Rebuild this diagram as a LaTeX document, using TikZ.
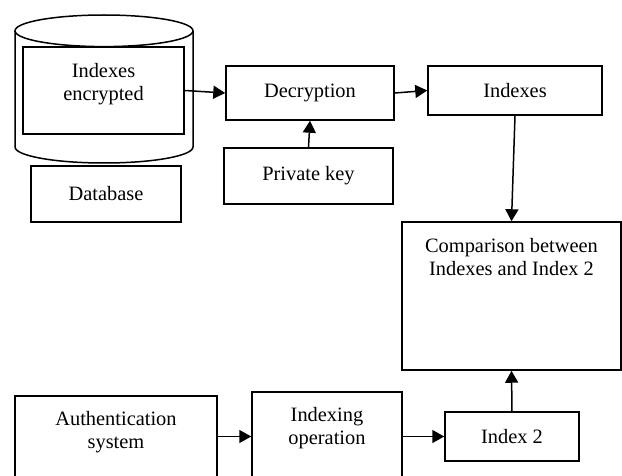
\documentclass[tikz,border=0pt]{standalone}
\usepackage{fontspec}
\setmainfont{Liberation Serif}
\usetikzlibrary{arrows.meta}
\tikzset{
  box/.style={draw, line width=1.5pt, fill=white, inner sep=0pt, align=center,
    font=\fontsize{20.4}{23}\selectfont},
  txt/.style={inner sep=0pt, align=center, font=\fontsize{20.4}{23}\selectfont},
  flow/.style={line width=1.5pt, -{Triangle[length=12pt,width=13pt]}}
}
\begin{document}
\begin{tikzpicture}[x=1pt,y=-1pt]
\useasboundingbox (0,0) rectangle (622,476);
\fill[white] (0,0) rectangle (622,476);
\clip (0,0) rectangle (622,476);

% database cylinder
\draw[line width=1.5pt, fill=white] (15,30.8) -- (15,147)
  arc[start angle=180, end angle=0, x radius=89, y radius=16] -- (193,30.8);
\draw[line width=1.5pt] (104,30.8) ellipse [x radius=89, y radius=15.8];

% boxes
\node[box, minimum width=161pt, minimum height=87pt] (enc) at (103.5,90.5) {};
\node[txt] (enctext) at (103.5,84) {Indexes\\encrypted};
\node[box, minimum width=150pt, minimum height=56pt] (db) at (106,194) {Database};
\node[box, minimum width=168pt, minimum height=54pt] (dec) at (310,93) {Decryption};
\node[box, minimum width=174pt, minimum height=49pt] (idx) at (515,90.5) {Indexes};
\node[box, minimum width=169pt, minimum height=56pt] (pk) at (308.5,176) {Private key};
\node[box, minimum width=219pt, minimum height=148pt] (cmp) at (511.5,296) {};
\node[txt] (cmptext) at (511.5,257.5) {Comparison between\\Indexes and Index 2};
\node[box, minimum width=134pt, minimum height=49pt] (i2) at (512,436.5) {Index 2};
\node[box, minimum width=150pt, minimum height=128pt] (iop) at (327,456) {};
\node[txt] (ioptext) at (327,428) {Indexing\\operation};
\node[box, minimum width=202pt, minimum height=124pt] (auth) at (116,458) {};
\node[txt] (authtext) at (116,432) {Authentication\\system};

% connectors
\draw[flow] (enc.east) -- (dec.west);
\draw[flow] (dec.east) -- (idx.west);
\draw[flow] (pk.north) -- (dec.south);
\draw[flow] (idx.south) -- (cmp.north);
\draw[flow] (i2.north) -- (cmp.south);
\draw[flow] (auth.east |- i2.west) -- (iop.west |- i2.west);
\draw[flow] (iop.east |- i2.west) -- (i2.west);
\end{tikzpicture}
\end{document}
